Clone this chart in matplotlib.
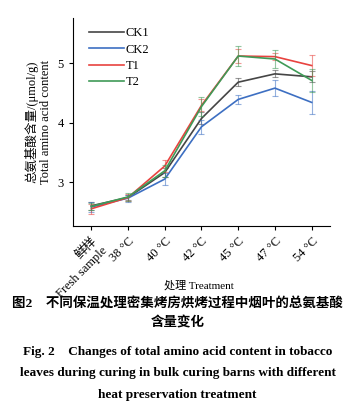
import matplotlib
matplotlib.use("Agg")
import matplotlib.pyplot as plt
import numpy as np

plt.rcParams['font.family'] = ['Liberation Serif', 'Noto Sans CJK SC', 'DejaVu Sans']
plt.rcParams['mathtext.fontset'] = 'stix'

stages = ['鲜样\nFresh sample', '38 °C', '40 °C', '42 °C', '45 °C', '47 °C', '54 °C']
ck1 = [2.60, 2.74, 3.16, 4.07, 4.68, 4.82, 4.77]
ck2 = [2.58, 2.73, 3.05, 3.93, 4.39, 4.58, 4.34]
t1 = [2.55, 2.74, 3.27, 4.29, 5.12, 5.11, 4.96]
t2 = [2.59, 2.75, 3.19, 4.27, 5.12, 5.07, 4.71]
ck1_err = [0.07, 0.05, 0.07, 0.10, 0.07, 0.06, 0.09]
ck2_err = [0.08, 0.06, 0.10, 0.12, 0.07, 0.13, 0.20]
t1_err = [0.08, 0.06, 0.10, 0.10, 0.12, 0.06, 0.17]
t2_err = [0.06, 0.07, 0.10, 0.16, 0.17, 0.15, 0.20]

series = [('CK1', ck1, ck1_err, '#454545'),
          ('CK2', ck2, ck2_err, '#3d6fc2'),
          ('T1', t1, t1_err, '#e8433f'),
          ('T2', t2, t2_err, '#3f9a57')]

fig = plt.figure(figsize=(3.55, 4.09), dpi=100)
ax = fig.add_axes([0.2056, 0.4474, 0.724, 0.5086])
x = np.arange(len(stages))
for name, vals, err, col in series:
    ax.errorbar(x, vals, yerr=err, fmt='none', ecolor=col, alpha=0.55,
                elinewidth=0.8, capsize=2.5, capthick=0.8)
    ax.plot(x, vals, color=col, lw=1.2, label=name)

ax.set_xlim(-0.5, 6.5)
ax.set_ylim(2.26, 5.76)
ax.set_yticks([3, 4, 5])
ax.set_xticks(x)
ax.set_xticklabels(stages, rotation=45, ha='right', rotation_mode='anchor', fontsize=9)
ax.tick_params(axis='y', labelsize=9, length=3, width=0.8)
ax.tick_params(axis='x', length=3, width=0.8)
for s in ['top', 'right']:
    ax.spines[s].set_visible(False)
ax.set_ylabel('总氨基酸含量/(μmol/g)\nTotal amino acid content', fontsize=9, labelpad=4)
ax.legend(loc='upper left', bbox_to_anchor=(0.02, 1.01), frameon=False, fontsize=9,
          handlelength=2.8, handletextpad=0.1, labelspacing=0.35)

fig.text(0.56, 0.302, '处理 Treatment', ha='center', va='center', fontsize=8)
fig.text(0.5, 0.258, '图2　不同保温处理密集烤房烘烤过程中烟叶的总氨基酸',
         ha='center', va='center', fontsize=9.7, fontweight='bold')
fig.text(0.5, 0.210, '含量变化', ha='center', va='center', fontsize=9.7, fontweight='bold')
fig.text(0.5, 0.140, 'Fig. 2    Changes of total amino acid content in tobacco',
         ha='center', va='center', fontsize=9.5, fontweight='bold')
fig.text(0.5, 0.088, 'leaves during curing in bulk curing barns with different',
         ha='center', va='center', fontsize=9.5, fontweight='bold')
fig.text(0.5, 0.034, 'heat preservation treatment',
         ha='center', va='center', fontsize=9.5, fontweight='bold')

fig.savefig('out.png', dpi=100)
